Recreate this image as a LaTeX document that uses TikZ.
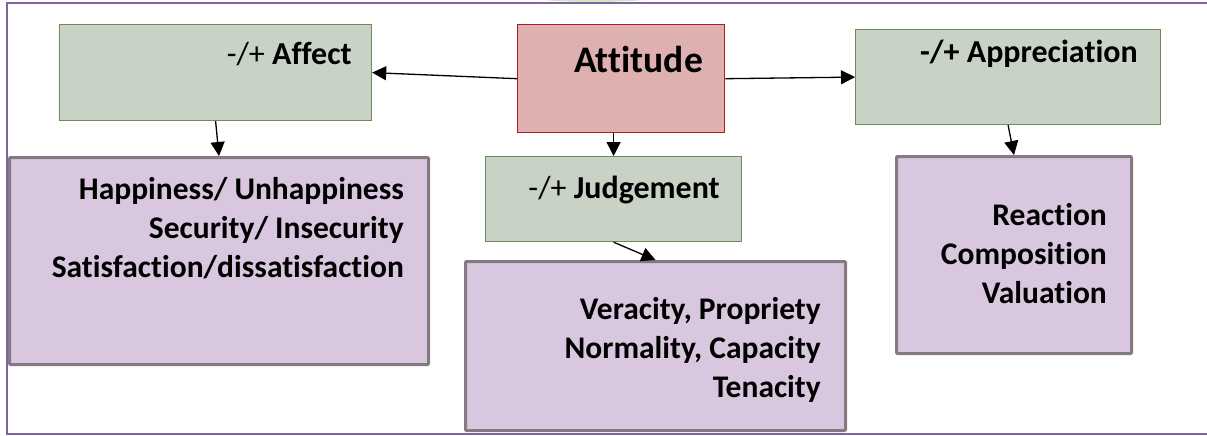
\documentclass[tikz,border=0pt]{standalone}
\usepackage{fontspec}
\setmainfont{Carlito}[Ligatures=NoCommon]
\usetikzlibrary{arrows.meta}

\definecolor{frame purple}{HTML}{8064A2}
\definecolor{sage fill}{HTML}{C8D3C5}
\definecolor{sage line}{HTML}{6C8A5C}
\definecolor{rose fill}{HTML}{DFB0B0}
\definecolor{rose line}{HTML}{B01C20}
\definecolor{lilac fill}{HTML}{D8C7DE}
\definecolor{lilac line}{HTML}{857A82}
\definecolor{blob green}{HTML}{D6E3BC}

\tikzstyle{category}=[draw=sage line, fill=sage fill, line width=1.2pt, inner sep=0pt, anchor=north west]
\tikzstyle{root}=[draw=rose line, fill=rose fill, line width=1.4pt, inner sep=0pt, anchor=north west]
\tikzstyle{listing}=[draw=lilac line, fill=lilac fill, line width=3pt, rounded corners=1pt, inner sep=0pt, anchor=north west]
\tikzstyle{heading}=[inner sep=0pt, anchor=base east, font=\fontsize{32}{38}\selectfont]
\tikzstyle{entries}=[inner sep=0pt, anchor=base east, align=right, font=\fontsize{31.5}{39}\selectfont\bfseries]
\tikzstyle{link}=[-{Triangle[length=14pt,width=14pt]}, line width=1.3pt]

\begin{document}
\begin{tikzpicture}[x=1pt, y=-1pt]
					\useasboundingbox (0,0) rectangle (1207,436);
					\fill[blob green] (594,-22) ellipse (126 and 24);
					\draw[frame purple, line width=2pt] (1207,3) -- (7,3) -- (7,434) -- (1207,434);

					\node[root, minimum width=207pt, minimum height=108pt] (attitude) at (517,24) {};
					\node[category, minimum width=312pt, minimum height=96pt] (affect) at (59,24) {};
					\node[category, minimum width=305pt, minimum height=95pt] (appreciation) at (855,29) {};
					\node[category, minimum width=256pt, minimum height=85pt] (judgement) at (485,156) {};
					\node[listing, minimum width=419pt, minimum height=207pt] (affect list) at (8,156) {};
					\node[listing, minimum width=380pt, minimum height=169pt] (judgement list) at (464,260) {};
					\node[listing, minimum width=235pt, minimum height=197pt] (appreciation list) at (895,155) {};

					\node[heading, font=\fontsize{37.5}{42}\selectfont\bfseries] (attitude text) at (703,73) {Attitude};
					\node[heading] (affect text) at (352,65) {-/+ \textbf{Affect}};
					\node[heading, font=\fontsize{32}{38}\selectfont\bfseries] (appreciation text) at (1138,63) {-/+ Appreciation};
					\node[heading] (judgement text) at (720,198) {-/+ \textbf{Judgement}};

					% base anchor sits on the last line
					\node[entries] (affect items) at (404,277) {Happiness/ Unhappiness\\Security/ Insecurity\\Satisfaction/dissatisfaction};
					\node[entries] (judgement items) at (821,397) {Veracity, Propriety\\Normality, Capacity\\Tenacity};
					\node[entries] (appreciation items) at (1107,303) {Reaction\\Composition\\Valuation};

					\draw[link] (attitude.west) -- (affect.east);
					\draw[link] (attitude.east) -- (appreciation.west);
					\draw[link] (judgement.north |- attitude.south) -- (judgement.north);
					\draw[link] (affect.south) -- (affect list.north);
					\draw[link] (judgement.south) -- (judgement list.north);
					\draw[link] (appreciation.south) -- (appreciation list.north);
				\end{tikzpicture}
\end{document}
